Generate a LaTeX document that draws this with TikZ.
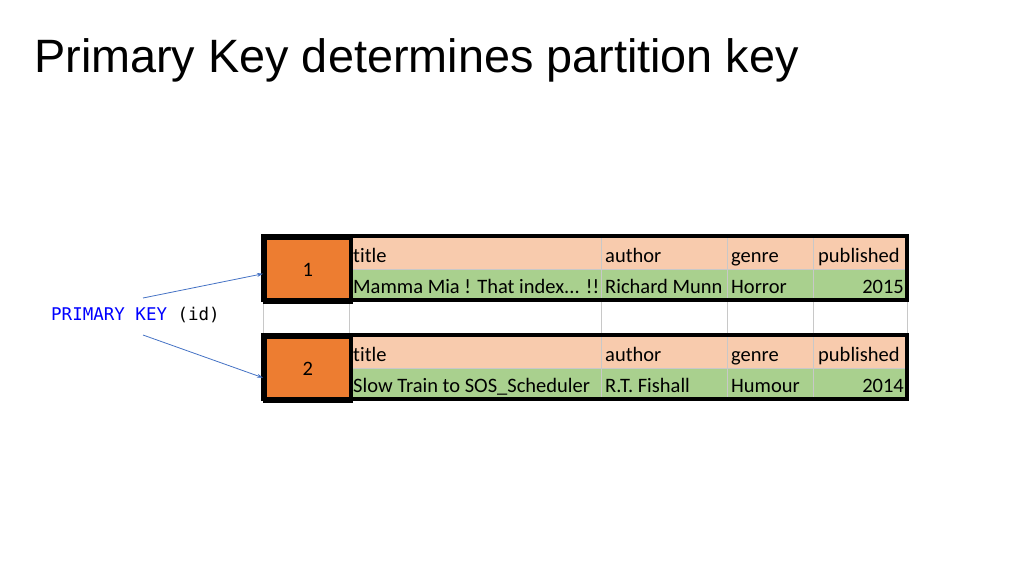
\documentclass[tikz,border=0pt]{standalone}
\usepackage{fontspec}
\setmainfont{Carlito}[Ligatures=NoCommon]
\newfontfamily\titlefont{Liberation Sans}
\setmonofont{DejaVu Sans Mono}
\usetikzlibrary{positioning, arrows.meta}
\definecolor{pkOrange}{HTML}{ED7D31}
\definecolor{pkPeach}{HTML}{F8CBAD}
\definecolor{pkGreen}{HTML}{A9D08E}
\definecolor{pkBlue}{HTML}{4472C4}
\definecolor{pkGrid}{RGB}{200,200,200}
\tikzset{
    cell/.style={
        anchor=base west,
        inner sep=0pt,
        font=\fontsize{20.5}{20.5}\selectfont
    },
    numcell/.style={
        cell,
        anchor=base east
    },
    keybox/.style={
        rectangle,
        fill=pkOrange,
        draw=black,
        line width=3.5pt,
        minimum width=86pt,
        minimum height=64pt,
        inner sep=0pt,
        font=\fontsize{20.5}{20.5}\selectfont
    },
    pointer/.style={
        -{Stealth[length=6pt,width=4pt]},
        color=pkBlue,
        thick
    }
}
% one partition: key, header row, data row
\newcommand{\partrow}[6]{%
  \fill[pkPeach] (349,#1) rectangle (907,#1+33);
  \fill[pkGreen] (349,#1+33) rectangle (907,#1+64);
  \draw[pkGrid, thin] (349,#1+33) -- (907,#1+33);
  \foreach \x in {601,727,813} \draw[pkGrid, thin] (\x,#1) -- (\x,#1+64);
  \node[keybox, anchor=north west] (k#2) at (263,#1) {#2};
  \node[cell] (t#2) at (353,#1+26) {title};
  \node[cell] (a#2) at (605,#1+26) {author};
  \node[cell] (g#2) at (731,#1+26) {genre};
  \node[cell] (p#2) at (818,#1+26) {published};
  \node[cell] (tv#2) at (353,#1+57) {#3};
  \node[cell] (av#2) at (605,#1+57) {#4};
  \node[cell] (gv#2) at (731,#1+57) {#5};
  \node[numcell] (pv#2) at (904,#1+57) {#6};
  \draw[line width=3.5pt] (263,#1) rectangle (907,#1+64);
}
\begin{document}
\begin{tikzpicture}[x=1pt, y=-1pt]
  \useasboundingbox (0,0) rectangle (1024,576);

  % Title
  \node[anchor=base west, inner sep=0pt, font=\titlefont\fontsize{46.8}{46.8}\selectfont] (title) at (34,72) {Primary Key determines partition key};

  % Gap row grid
  \draw[pkGrid, thin] (263,300) -- (263,334);
  \foreach \x in {349,601,727,813,907} \draw[pkGrid, thin] (\x,300) -- (\x,334);

  % Partitions
  \partrow{236}{1}{Mamma Mia ! That index... !!}{Richard Munn}{Horror}{2015}
  \partrow{335}{2}{Slow Train to SOS\_Scheduler}{R.T. Fishall}{Humour}{2014}

  % Primary key label
  \node[anchor=base west, inner sep=0pt, font=\ttfamily\fontsize{17.5}{17.5}\selectfont] (pk) at (51,320) {\textcolor{blue}{PRIMARY KEY} (id)};
  \coordinate (pkTop) at (143,298);
  \coordinate (pkBot) at (143,335);
  \draw[pointer] (pkTop) -- ([yshift=-4pt]k1.west);
  \draw[pointer] (pkBot) -- ([yshift=-9pt]k2.west);
\end{tikzpicture}
\end{document}
